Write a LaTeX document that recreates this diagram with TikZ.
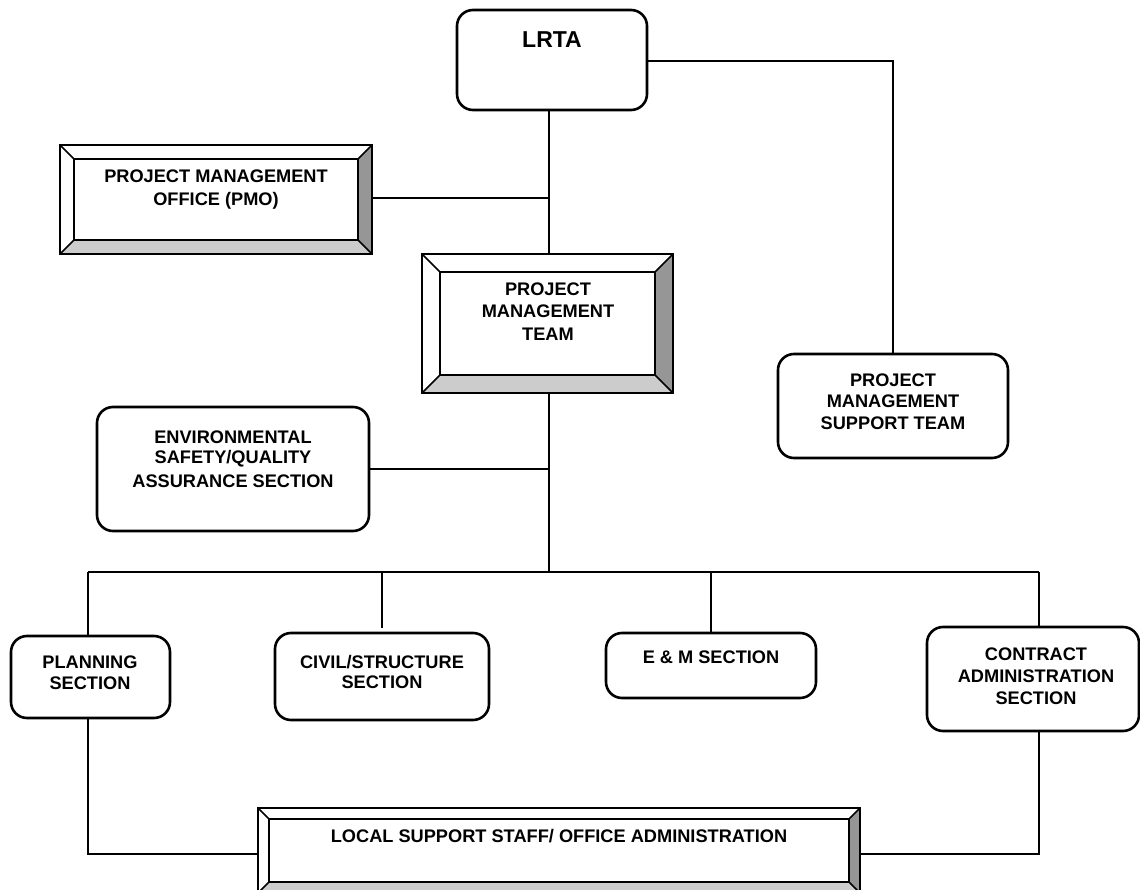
\documentclass[tikz,border=0pt]{standalone}
\usepackage{fontspec}
\setmainfont{Liberation Sans}
\definecolor{bevdark}{HTML}{969696}
\definecolor{bevlight}{HTML}{CCCCCC}
\tikzset{
  rbox/.style={draw, line width=2.6pt, rounded corners=16pt, fill=white, inner sep=0pt},
  txt/.style={align=center, inner sep=0pt, font=\bfseries\fontsize{18.2}{21.5}\selectfont},
  conn/.style={line width=1.8pt},
  bevline/.style={line width=2.4pt},
  bevdiag/.style={line width=1.5pt}
}
% name, x1, y1, x2, y2, bevel
\newcommand\bevelbox[6]{%
  \node[inner sep=0pt, minimum width={#4-#2}, minimum height={#5-#3}] (#1) at ({(#2+#4)/2},{(#3+#5)/2}) {};
  \fill[white] (#2,#3) rectangle (#4,#5);
  \fill[bevdark] (#4,#3) -- (#4,#5) -- ({#4-#6},{#5-#6}) -- ({#4-#6},{#3+#6}) -- cycle;
  \fill[bevlight] (#2,#5) -- (#4,#5) -- ({#4-#6},{#5-#6}) -- ({#2+#6},{#5-#6}) -- cycle;
  \draw[bevdiag] (#2,#3) -- ({#2+#6},{#3+#6}) (#4,#3) -- ({#4-#6},{#3+#6})
                 (#2,#5) -- ({#2+#6},{#5-#6}) (#4,#5) -- ({#4-#6},{#5-#6});
  \draw[bevline] ({#2+#6},{#3+#6}) rectangle ({#4-#6},{#5-#6});
  \draw[bevline] (#2,#3) rectangle (#4,#5);
}
% name, x1, y1, x2, y2
\newcommand\roundbox[5]{%
  \node[rbox, minimum width={#4-#2}, minimum height={#5-#3}] (#1) at ({(#2+#4)/2},{(#3+#5)/2}) {};
}
\begin{document}
\begin{tikzpicture}[x=1pt, y=-1pt]
\useasboundingbox (0,0) rectangle (1140,890);

% coordinates of the connector bends
\coordinate (spineA) at (549,198);
\coordinate (spineB) at (549,469);
\coordinate (busC) at (549,572);
\coordinate (busL) at (88,572);
\coordinate (busR) at (1039,572);
\coordinate (busCiv) at (382,572);
\coordinate (busEM) at (711,572);
\coordinate (cornerTR) at (893,61);
\coordinate (cornerBL) at (88,854);
\coordinate (cornerBR) at (1039,854);
\coordinate (civEnd) at (382,628);

% boxes
\roundbox{lrta}{457}{10}{647}{110}
\bevelbox{pmo}{60}{145}{372}{254}{14}
\bevelbox{pmt}{422}{254}{673}{393}{18}
\roundbox{env}{97}{407}{369}{531}
\roundbox{pmst}{778}{354}{1008}{458}
\roundbox{plan}{11}{636}{170}{718}
\roundbox{civ}{275}{633}{489}{720}
\roundbox{em}{606}{633}{816}{698}
\roundbox{con}{927}{627}{1139}{731}
\bevelbox{lss}{258}{808}{860}{893}{11}

% texts
\node[txt, font=\bfseries\fontsize{23}{27}\selectfont] (lrtaT) at (552,40) {LRTA};
\node[txt, font=\bfseries\fontsize{18.2}{23}\selectfont] (pmoT) at (216,189.5) {PROJECT MANAGEMENT\\OFFICE (PMO)};
\node[txt, font=\bfseries\fontsize{18.2}{22.5}\selectfont] (pmtT) at (548,311.5) {PROJECT\\MANAGEMENT\\TEAM};
\node[txt, font=\bfseries\fontsize{18.2}{20}\selectfont] (envT) at (233,459) {ENVIRONMENTAL\\SAFETY/QUALITY\\[4pt]ASSURANCE SECTION};
\node[txt] (pmstT) at (893,401.5) {PROJECT\\MANAGEMENT\\SUPPORT TEAM};
\node[txt, font=\bfseries\fontsize{18.2}{21}\selectfont] (planT) at (90,672.5) {PLANNING\\SECTION};
\node[txt, font=\bfseries\fontsize{18.2}{20}\selectfont] (civT) at (382,672) {CIVIL/STRUCTURE\\SECTION};
\node[txt] (emT) at (711,657) {E \& M SECTION};
\node[txt, font=\bfseries\fontsize{18.2}{22}\selectfont] (conT) at (1036,676) {CONTRACT\\ADMINISTRATION\\SECTION};
\node[txt] (lssT) at (559,836) {LOCAL SUPPORT STAFF/ OFFICE ADMINISTRATION};

% connectors
\draw[conn] (lrta.south -| spineA) -- (pmt.north -| spineA);
\draw[conn] (pmo.east |- spineA) -- (spineA);
\draw[conn] (lrta.east |- cornerTR) -- (cornerTR) -- (pmst.north -| cornerTR);
\draw[conn] (pmt.south -| busC) -- (busC);
\draw[conn] (env.east |- spineB) -- (spineB);
\draw[conn] (busL) -- (busR);
\draw[conn] (busL) -- (plan.north -| busL);
\draw[conn] (busCiv) -- (civEnd);
\draw[conn] (busEM) -- (em.north -| busEM);
\draw[conn] (busR) -- (con.north -| busR);
\draw[conn] (plan.south -| cornerBL) -- (cornerBL) -- (lss.west |- cornerBL);
\draw[conn] (con.south -| cornerBR) -- (cornerBR) -- (lss.east |- cornerBR);
\end{tikzpicture}
\end{document}
